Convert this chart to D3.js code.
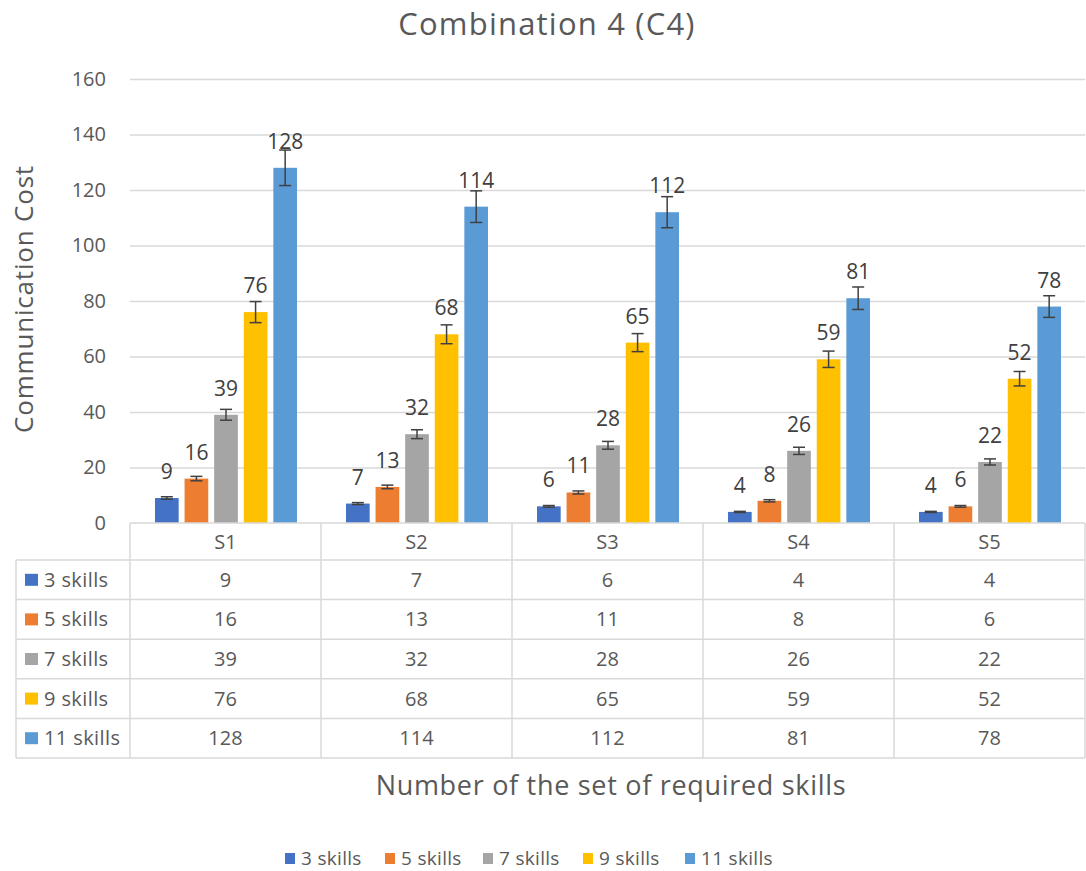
<!DOCTYPE html>
<html>
<head>
<meta charset="utf-8">
<script src="https://cdn.jsdelivr.net/npm/d3@7"></script>
<style>
  html, body { margin: 0; padding: 0; background: #fff; }
  svg { display: block; font-family: "Open Sans", "Noto Sans", sans-serif; }
</style>
</head>
<body>
<svg id="chart" width="1086" height="871"></svg>
<script>
// Categories (sets of required skills) and series
const categories = ["S1", "S2", "S3", "S4", "S5"];
const seriesNames = ["3 skills", "5 skills", "7 skills", "9 skills", "11 skills"];
const seriesColors = ["#4472c4", "#ed7d31", "#a5a5a5", "#ffc000", "#5b9bd5"];

// Communication cost per series, one value per category
const skills3 = [9, 7, 6, 4, 4];
const skills5 = [16, 13, 11, 8, 6];
const skills7 = [39, 32, 28, 26, 22];
const skills9 = [76, 68, 65, 59, 52];
const skills11 = [128, 114, 112, 81, 78];
const seriesValues = [skills3, skills5, skills7, skills9, skills11];

// Error bars: percentage of the value
const errorPercent = 0.05;

const yTicks = [0, 20, 40, 60, 80, 100, 120, 140, 160];

const svg = d3.select("#chart");
const textColor = "#595959";
const gridColor = "#d9d9d9";

const plotLeft = 130, plotRight = 1085, plotTop = 79, plotBottom = 523;

const x = d3.scaleBand().domain(categories).range([plotLeft, plotRight]).padding(0);
const xs = d3.scaleBand().domain(seriesNames).range([25, x.bandwidth() - 24]).paddingInner(0.2);
const y = d3.scaleLinear().domain([0, 160]).range([plotBottom, plotTop]);

// Title
svg.append("text")
  .attr("x", 547).attr("y", 35)
  .attr("text-anchor", "middle")
  .attr("font-size", 31).attr("letter-spacing", 1.2).attr("fill", textColor)
  .text("Combination 4 (C4)");

// Gridlines and y tick labels
const yAxis = d3.axisLeft(y).tickValues(yTicks).tickSize(-(plotRight - plotLeft)).tickPadding(24);
const yg = svg.append("g").attr("transform", `translate(${plotLeft},0)`).call(yAxis);
yg.select(".domain").remove();
yg.selectAll(".tick line").attr("stroke", gridColor).attr("stroke-width", 1.3)
  .filter(d => d === 0).remove();
yg.selectAll(".tick text").attr("fill", textColor).attr("font-size", 20)
  .attr("font-family", "'Open Sans', sans-serif");

// Y axis title
svg.append("text")
  .attr("transform", "translate(33,299) rotate(-90)")
  .attr("text-anchor", "middle")
  .attr("font-size", 26).attr("letter-spacing", 0.8).attr("fill", textColor)
  .text("Communication Cost");

// Bars
const rows = [];
seriesNames.forEach((s, i) => {
  categories.forEach((c, j) => {
    rows.push({ series: s, si: i, cat: c, value: seriesValues[i][j] });
  });
});

const barG = svg.append("g");
barG.selectAll("rect").data(rows).join("rect")
  .attr("x", d => x(d.cat) + xs(d.series))
  .attr("y", d => y(d.value))
  .attr("width", xs.bandwidth())
  .attr("height", d => y(0) - y(d.value))
  .attr("fill", d => seriesColors[d.si]);

// Error bars
const errG = svg.append("g").attr("stroke", "#404040").attr("stroke-width", 1.5);
rows.forEach(d => {
  const cx = x(d.cat) + xs(d.series) + xs.bandwidth() / 2;
  const e = d.value * errorPercent;
  const y1 = y(d.value + e), y2 = y(d.value - e);
  errG.append("line").attr("x1", cx).attr("x2", cx).attr("y1", y1).attr("y2", y2);
  errG.append("line").attr("x1", cx - 6).attr("x2", cx + 6).attr("y1", y1).attr("y2", y1);
  errG.append("line").attr("x1", cx - 6).attr("x2", cx + 6).attr("y1", y2).attr("y2", y2);
});

// Data labels
svg.append("g").selectAll("text").data(rows).join("text")
  .attr("x", d => x(d.cat) + xs(d.series) + xs.bandwidth() / 2)
  .attr("y", d => y(d.value) - 19)
  .attr("text-anchor", "middle")
  .attr("font-size", 21).attr("fill", "#404040")
  .text(d => d.value);

// Data table under the plot
const tableLeft = 16, headerTop = 523, headerBottom = 560, rowH = 39.6;
const tableBottom = headerBottom + rowH * seriesNames.length;
const tg = svg.append("g");
const lineAttr = sel => sel.attr("stroke", gridColor).attr("stroke-width", 1.5);

// horizontal lines
tg.append("line").attr("x1", plotLeft).attr("x2", plotRight).attr("y1", headerTop).attr("y2", headerTop).call(lineAttr);
for (let i = 0; i <= seriesNames.length; i++) {
  const yy = headerBottom + i * rowH;
  tg.append("line").attr("x1", tableLeft).attr("x2", plotRight).attr("y1", yy).attr("y2", yy).call(lineAttr);
}
// vertical lines
tg.append("line").attr("x1", tableLeft).attr("x2", tableLeft).attr("y1", headerBottom).attr("y2", tableBottom).call(lineAttr);
categories.forEach(c => {
  tg.append("line").attr("x1", x(c)).attr("x2", x(c)).attr("y1", headerTop).attr("y2", tableBottom).call(lineAttr);
});
tg.append("line").attr("x1", plotRight).attr("x2", plotRight).attr("y1", headerTop).attr("y2", tableBottom).call(lineAttr);

// header labels
tg.selectAll("text.hdr").data(categories).join("text").attr("class", "hdr")
  .attr("x", d => x(d) + x.bandwidth() / 2)
  .attr("y", (headerTop + headerBottom) / 2 + 7)
  .attr("text-anchor", "middle").attr("font-size", 20).attr("fill", textColor)
  .text(d => d);

// row keys and values
seriesNames.forEach((s, i) => {
  const cy = headerBottom + i * rowH + rowH / 2;
  tg.append("rect").attr("x", 25).attr("y", cy - 6).attr("width", 13).attr("height", 12).attr("fill", seriesColors[i]);
  tg.append("text").attr("x", 44).attr("y", cy + 7).attr("font-size", 20).attr("letter-spacing", 0.4)
    .attr("fill", textColor).text(s);
  categories.forEach((c, j) => {
    tg.append("text").attr("x", x(c) + x.bandwidth() / 2).attr("y", cy + 7)
      .attr("text-anchor", "middle").attr("font-size", 20).attr("fill", textColor)
      .text(seriesValues[i][j]);
  });
});

// X axis title
svg.append("text")
  .attr("x", 611).attr("y", 795)
  .attr("text-anchor", "middle")
  .attr("font-size", 27).attr("letter-spacing", 0.7).attr("fill", textColor)
  .text("Number of the set of required skills");

// Legend
const legendX = [285, 385, 483, 583, 685];
const lg = svg.append("g");
seriesNames.forEach((s, i) => {
  lg.append("rect").attr("x", legendX[i]).attr("y", 853).attr("width", 10).attr("height", 11).attr("fill", seriesColors[i]);
  lg.append("text").attr("x", legendX[i] + 16).attr("y", 865).attr("font-size", 19).attr("letter-spacing", 0.3)
    .attr("fill", textColor).text(s);
});
</script>
</body>
</html>
